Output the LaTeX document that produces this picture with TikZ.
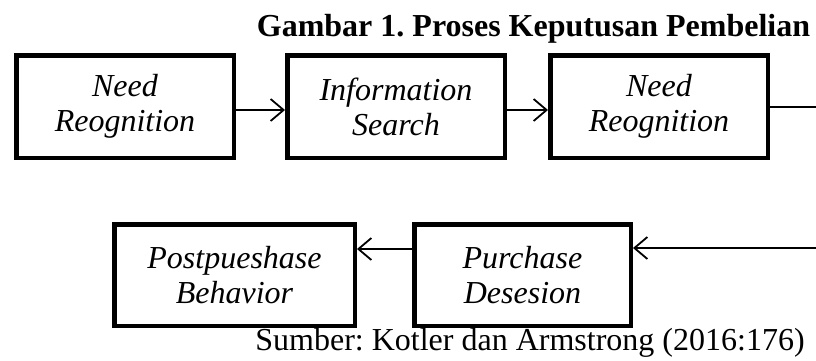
\documentclass[tikz,border=0pt]{standalone}
\usepackage{fontspec}
\setmainfont{Liberation Serif}
\usetikzlibrary{arrows.meta}
\frenchspacing
\tikzset{
  stagebox/.style={draw, line width=4.5pt, inner sep=0pt, align=center,
    font=\fontsize{32pt}{35pt}\selectfont\itshape},
  flow/.style={line width=1.8pt, -{Straight Barb[length=13pt,width=22pt,line width=1.8pt]}},
  plain/.style={line width=1.6pt}
}
\begin{document}
\begin{tikzpicture}[x=1pt,y=-1pt]
\useasboundingbox (0,0) rectangle (816,360);
\node[font=\fontsize{32pt}{35pt}\selectfont\bfseries\frenchspacing, anchor=base] (title) at (533.5,36) {Gambar 1. Proses Keputusan Pembelian};
\node[stagebox, minimum width=217.5pt, minimum height=102.5pt] (b1) at (125,106.5) {Need\\Reognition};
\node[stagebox, minimum width=217.5pt, minimum height=102.5pt] (b2) at (396,106.5) {Information\\Search};
\node[stagebox, minimum width=217.5pt, minimum height=102.5pt] (b3) at (659,106.5) {Need\\Reognition};
\node[stagebox, minimum width=240.5pt, minimum height=101.5pt] (b4) at (234.5,275) {Postpueshase\\Behavior};
\node[stagebox, minimum width=216.5pt, minimum height=101.5pt] (b5) at (522.5,275) {Purchase\\Desesion};
\node[font=\fontsize{32pt}{35pt}\selectfont\frenchspacing, anchor=base] (src) at (530,350) {Sumber: Kotler dan Armstrong (2016:176)};
\coordinate (e1) at (816,107);
\coordinate (e2) at (816,248);
\draw[flow] ([yshift=-3.5pt]b1.east) -- ([yshift=-3.5pt]b2.west);
\draw[flow] ([yshift=-3.5pt]b2.east) -- ([yshift=-3.5pt]b3.west);
\draw[plain] (b3.east |- e1) -- (e1);
\draw[flow] (e2) -- (b5.east |- e2);
\draw[flow] ([yshift=26pt]b5.west) -- ([yshift=26pt]b4.east);
\end{tikzpicture}
\end{document}
